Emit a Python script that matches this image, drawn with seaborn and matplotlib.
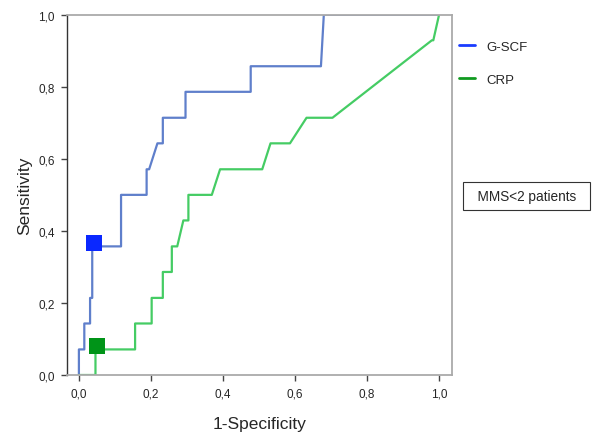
import matplotlib
matplotlib.use("Agg")
import matplotlib.pyplot as plt
import matplotlib.ticker as ticker
from matplotlib.lines import Line2D
import numpy as np
import pandas as pd
import seaborn as sns

# ROC points (1-specificity, sensitivity)
GSCF_FPR = [0.0, 0.0, 0.015, 0.015, 0.031, 0.031, 0.037, 0.037, 0.117, 0.117,
            0.188, 0.188, 0.195, 0.218, 0.233, 0.233, 0.296, 0.296, 0.477, 0.477,
            0.672, 0.680, 1.0]
GSCF_TPR = [0.0, 0.071, 0.071, 0.143, 0.143, 0.214, 0.214, 0.357, 0.357, 0.5,
            0.5, 0.571, 0.571, 0.643, 0.643, 0.714, 0.714, 0.786, 0.786, 0.857,
            0.857, 1.0, 1.0]
CRP_FPR = [0.0, 0.046, 0.046, 0.156, 0.156, 0.202, 0.202, 0.233, 0.233, 0.258,
           0.258, 0.273, 0.290, 0.304, 0.304, 0.369, 0.392, 0.509, 0.532, 0.586,
           0.632, 0.704, 0.980, 0.984, 1.0]
CRP_TPR = [0.0, 0.0, 0.071, 0.071, 0.143, 0.143, 0.214, 0.214, 0.286, 0.286,
           0.357, 0.357, 0.429, 0.429, 0.5, 0.5, 0.571, 0.571, 0.643, 0.643,
           0.714, 0.714, 0.929, 0.929, 1.0]
# cut-off points
CUT_FPR = [0.042, 0.051]
CUT_TPR = [0.367, 0.081]
SERIES = ['G-SCF', 'CRP']
TICKS = [0.0, 0.2, 0.4, 0.6, 0.8, 1.0]

LINE_COLORS = {'G-SCF': '#5f7fcb', 'CRP': '#45cc64'}
MARK_COLORS = {'G-SCF': '#0a28ff', 'CRP': '#009418'}
LEG_COLORS = {'G-SCF': '#1a3cff', 'CRP': '#109a20'}

df = pd.concat([
    pd.DataFrame({'fpr': GSCF_FPR, 'tpr': GSCF_TPR, 'var': 'G-SCF', 'o': range(len(GSCF_FPR))}),
    pd.DataFrame({'fpr': CRP_FPR, 'tpr': CRP_TPR, 'var': 'CRP', 'o': range(len(CRP_FPR))}),
])
cuts = pd.DataFrame({'fpr': CUT_FPR, 'tpr': CUT_TPR, 'var': SERIES})

sns.set_style('white')
plt.rcParams['font.family'] = ['Liberation Sans', 'DejaVu Sans']

fig = plt.figure(figsize=(6, 4.39), dpi=100)
ax = fig.add_axes([0.1117, 0.1435, 0.6417, 0.8207])

sns.lineplot(data=df, x='fpr', y='tpr', hue='var', units='var', estimator=None,
             sort=False, palette=LINE_COLORS, linewidth=1.6, legend=False, ax=ax)
sns.scatterplot(data=cuts, x='fpr', y='tpr', hue='var', palette=MARK_COLORS,
                marker='s', s=130, linewidth=0, legend=False, ax=ax, zorder=5)

ax.set_xlim(-0.033, 1.036)
ax.set_ylim(0, 1)
ax.xaxis.set_major_locator(ticker.FixedLocator(TICKS))
ax.yaxis.set_major_locator(ticker.FixedLocator(TICKS))
fmt = ticker.FuncFormatter(lambda v, p: f"{v:.1f}".replace('.', ','))
ax.xaxis.set_major_formatter(fmt)
ax.yaxis.set_major_formatter(fmt)
ax.tick_params(axis='both', direction='out', length=4, width=1, color='#444444',
               labelsize=8.5, pad=5, bottom=True, left=True)
ax.set_xlabel('1-Specificity', fontsize=12.5, labelpad=12)
ax.set_ylabel('Sensitivity', fontsize=12.5, labelpad=4)

for side in ['top', 'right', 'bottom']:
    ax.spines[side].set_color('#aaaaaa')
    ax.spines[side].set_linewidth(1.3)
ax.spines['left'].set_color('#333333')
ax.spines['left'].set_linewidth(1.0)

handles = [Line2D([0], [0], color=LEG_COLORS[s], lw=2) for s in SERIES]
fig.legend(handles, SERIES, loc='upper left', bbox_to_anchor=(0.745, 0.932),
           frameon=False, fontsize=9.5, handlelength=1.2, labelspacing=1.55,
           handletextpad=0.9)

fig.text(0.783, 0.551, '  MMS<2 patients  ', fontsize=9.8, va='center', ha='left',
         bbox=dict(boxstyle='square,pad=0.5', fc='white', ec='#333333', lw=0.8))

fig.savefig('out.png', dpi=100)
